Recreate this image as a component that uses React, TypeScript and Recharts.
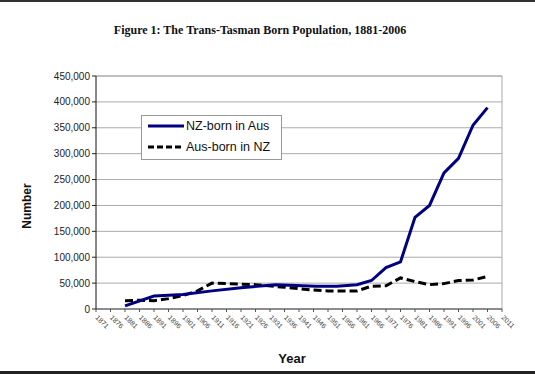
import React from "react";
import {
  LineChart,
  Line,
  XAxis,
  YAxis,
  CartesianGrid,
  ReferenceLine,
} from "recharts";

const xTicks = [
  1871, 1876, 1881, 1886, 1891, 1896, 1901, 1906, 1911, 1916, 1921, 1926,
  1931, 1936, 1941, 1946, 1951, 1956, 1961, 1966, 1971, 1976, 1981, 1986,
  1991, 1996, 2001, 2006, 2011,
];
const yTicks = [0, 50000, 100000, 150000, 200000, 250000, 300000, 350000, 400000, 450000];

// census years in Australia and the NZ-born counted there
const ausCensusYears = [
  1881, 1891, 1901, 1911, 1921, 1933, 1947, 1954, 1961, 1966, 1971, 1976,
  1981, 1986, 1991, 1996, 2001, 2006,
];
const nzBornInAus = [
  6000, 25000, 28000, 35000, 41000, 47000, 44000, 44000, 47000, 55000, 80000,
  91000, 177000, 200000, 263000, 291000, 355000, 389000,
];

// census years in NZ and the Australian-born counted there
const nzCensusYears = [
  1881, 1886, 1891, 1896, 1901, 1906, 1911, 1916, 1921, 1926, 1936, 1945,
  1951, 1956, 1961, 1966, 1971, 1976, 1981, 1986, 1991, 1996, 2001, 2006,
];
const ausBornInNz = [
  16000, 17000, 16000, 20000, 26000, 35000, 50000, 49000, 48000, 47000, 42000,
  37000, 35000, 35000, 35000, 44000, 45000, 60000, 53000, 47000, 49000, 55000,
  56000, 63000,
];

const seriesNames = ["NZ-born in Aus", "Aus-born in NZ"];

const nzData = ausCensusYears.map((year, i) => ({ year, value: nzBornInAus[i] }));
const ausData = nzCensusYears.map((year, i) => ({ year, value: ausBornInNz[i] }));

const SANS = "'Liberation Sans', Arial, sans-serif";

const XTick = ({ x, y, payload }: any) => (
  <text
    x={x - 1}
    y={y + 4}
    transform={`rotate(45 ${x - 1} ${y + 4})`}
    fontSize={7}
    fontFamily={SANS}
    fill="#444"
    textAnchor="start"
  >
    {payload.value}
  </text>
);

export default function App() {
  return (
    <div
      style={{
        position: "absolute",
        top: 0,
        left: 0,
        width: 535,
        height: 374,
        background: "#fff",
        overflow: "hidden",
      }}
    >
      <div style={{ position: "absolute", top: 0, left: 0, width: 535, height: 2, background: "#333" }} />
      <div style={{ position: "absolute", top: 371, left: 0, width: 535, height: 3, background: "#222" }} />
      <div
        style={{
          position: "absolute",
          top: 23,
          left: 0,
          width: 520,
          textAlign: "center",
          fontFamily: "'Liberation Serif', 'Times New Roman', serif",
          fontWeight: "bold",
          fontSize: 12,
          color: "#111",
        }}
      >
        Figure 1: The Trans-Tasman Born Population, 1881-2006
      </div>

      <LineChart
        width={535}
        height={374}
        margin={{ top: 76, right: 33, bottom: 35, left: 36 }}
        style={{ position: "absolute", top: 0, left: 0 }}
      >
        <CartesianGrid vertical={false} stroke="#aaa" strokeWidth={1} />
        <XAxis
          type="number"
          dataKey="year"
          domain={[1871, 2011]}
          ticks={xTicks}
          interval={0}
          allowDuplicatedCategory={false}
          height={30}
          tickSize={3}
          tickLine={{ stroke: "#555" }}
          axisLine={{ stroke: "#444" }}
          tick={<XTick />}
        />
        <YAxis
          type="number"
          domain={[0, 450000]}
          ticks={yTicks}
          width={60}
          tickSize={4}
          tickLine={{ stroke: "#222" }}
          axisLine={{ stroke: "#111" }}
          tickFormatter={(v: number) => v.toLocaleString("en-US")}
          tick={{ fontSize: 10, fontFamily: SANS, fill: "#222" }}
        />
        <ReferenceLine x={2011} stroke="#aaa" />
        <ReferenceLine y={450000} stroke="#aaa" />
        <Line
          data={ausData}
          dataKey="value"
          name={seriesNames[1]}
          type="linear"
          stroke="#000"
          strokeWidth={3}
          strokeDasharray="8 4"
          dot={false}
          isAnimationActive={false}
        />
        <Line
          data={nzData}
          dataKey="value"
          name={seriesNames[0]}
          type="linear"
          stroke="#000080"
          strokeWidth={3}
          dot={false}
          isAnimationActive={false}
        />
      </LineChart>

      {/* legend */}
      <div
        style={{
          position: "absolute",
          top: 115,
          left: 141,
          width: 139,
          height: 43,
          border: "1px solid #999",
          background: "#fff",
          fontFamily: SANS,
          fontSize: 12.5,
          color: "#111",
        }}
      >
        <div style={{ position: "absolute", top: 3, left: 6, display: "flex", alignItems: "center" }}>
          <svg width={36} height={10}>
            <line x1={0} y1={5} x2={36} y2={5} stroke="#000080" strokeWidth={3} />
          </svg>
          <span style={{ marginLeft: 2 }}>{seriesNames[0]}</span>
        </div>
        <div style={{ position: "absolute", top: 24, left: 6, display: "flex", alignItems: "center" }}>
          <svg width={36} height={10}>
            <line x1={0} y1={5} x2={36} y2={5} stroke="#000" strokeWidth={3} strokeDasharray="6 3" />
          </svg>
          <span style={{ marginLeft: 2 }}>{seriesNames[1]}</span>
        </div>
      </div>

      <div
        style={{
          position: "absolute",
          left: 27,
          top: 206,
          transform: "translate(-50%, -50%) rotate(-90deg)",
          fontFamily: SANS,
          fontWeight: "bold",
          fontSize: 12,
          color: "#111",
        }}
      >
        Number
      </div>
      <div
        style={{
          position: "absolute",
          left: 292,
          top: 358,
          transform: "translate(-50%, -50%)",
          fontFamily: SANS,
          fontWeight: "bold",
          fontSize: 13,
          color: "#111",
        }}
      >
        Year
      </div>
    </div>
  );
}
